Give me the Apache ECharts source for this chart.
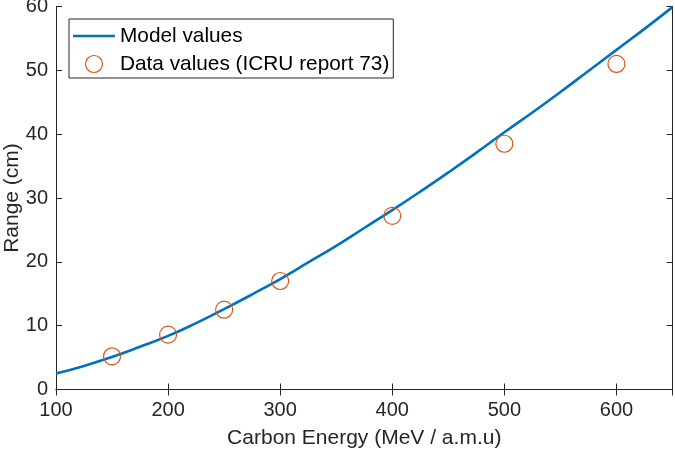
<!DOCTYPE html>
<html><head><meta charset="utf-8">
<script src="https://cdn.jsdelivr.net/npm/echarts@6/dist/echarts.min.js"></script>
<style>html,body{margin:0;padding:0;background:#fff}#c{width:675px;height:452px}</style>
</head><body><div id="c"></div>
<script>
const modelEnergy = [100,125,150,175,200,225,250,275,300,325,350,375,400,425,450,475,500,525,550,575,600,625,650];
const modelRange  = [2.5,3.7,5.1,6.7,8.4,10.4,12.6,14.9,17.3,19.9,22.5,25.3,28.1,31.0,34.0,37.1,40.3,43.4,46.6,49.9,53.2,56.5,59.9];
const dataEnergy = [150,200,250,300,400,500,600];
const dataRange  = [5.2,8.6,12.5,17.0,27.2,38.5,51.0];
const xTitle = 'Carbon Energy (MeV / a.m.u)';
const yTitle = 'Range (cm)';
const seriesNames = ['Model values','Data values (ICRU report 73)'];

const axisColor = '#262626';
const font = 'Liberation Sans, Arial, sans-serif';
const chart = echarts.init(document.getElementById('c'));
const tickStyle = {show:true, inside:true, length:6, lineStyle:{color:axisColor, width:1}};
chart.setOption({
  animation:false,
  grid:{left:56, right:2.5, top:6.5, bottom:62.5, containLabel:false, outerBoundsMode:'none'},
  legend:{
    orient:'vertical', left:69, top:19,
    padding:[6,4,3,4], itemGap:6,
    borderColor:axisColor, borderWidth:1, backgroundColor:'#fff', borderRadius:0,
    itemWidth:42, itemHeight:17, symbolKeepAspect:true,
    textStyle:{fontFamily:font, fontSize:20.8, color:'#000', lineHeight:22},
    data:[
      {name:seriesNames[0], icon:'path://M0,0H42V2.5H0Z', itemStyle:{color:'#0072BD'}},
      {name:seriesNames[1], icon:'circle', itemStyle:{color:'transparent', borderColor:'#D95319', borderWidth:1.2}}
    ]
  },
  xAxis:[{
    type:'value', min:100, max:650, interval:100,
    name:xTitle, nameLocation:'middle', nameGap:38, nameMoveOverlap:false,
    nameTextStyle:{fontFamily:font, fontSize:21, color:axisColor},
    axisLine:{show:true, lineStyle:{color:axisColor, width:1}},
    axisTick:tickStyle, splitLine:{show:false},
    axisLabel:{fontFamily:font, fontSize:20, color:axisColor, margin:11, showMaxLabel:false}
  },{
    type:'value', position:'top', min:100, max:650, interval:100,
    axisLine:{show:true, lineStyle:{color:axisColor, width:1}},
    axisTick:tickStyle, axisLabel:{show:false}, splitLine:{show:false}
  }],
  yAxis:[{
    type:'value', min:0, max:60, interval:10,
    name:yTitle, nameLocation:'middle', nameGap:33, nameMoveOverlap:false,
    nameTextStyle:{fontFamily:font, fontSize:21, color:axisColor},
    axisLine:{show:true, lineStyle:{color:axisColor, width:1}},
    axisTick:tickStyle, splitLine:{show:false},
    axisLabel:{fontFamily:font, fontSize:20, color:axisColor, margin:8}
  },{
    type:'value', position:'right', min:0, max:60, interval:10,
    axisLine:{show:true, lineStyle:{color:axisColor, width:1}},
    axisTick:tickStyle, axisLabel:{show:false}, splitLine:{show:false}
  }],
  series:[{
    name:seriesNames[0], type:'line', smooth:true, symbol:'none',
    lineStyle:{color:'#0072BD', width:2.6}, itemStyle:{color:'#0072BD'},
    data:modelEnergy.map((e,i)=>[e, modelRange[i]])
  },{
    name:seriesNames[1], type:'scatter', symbol:'circle', symbolSize:17,
    itemStyle:{color:'transparent', borderColor:'#D95319', borderWidth:1.2, opacity:1},
    emphasis:{disabled:true},
    data:dataEnergy.map((e,i)=>[e, dataRange[i]]), z:3
  }]
});
</script></body></html>
